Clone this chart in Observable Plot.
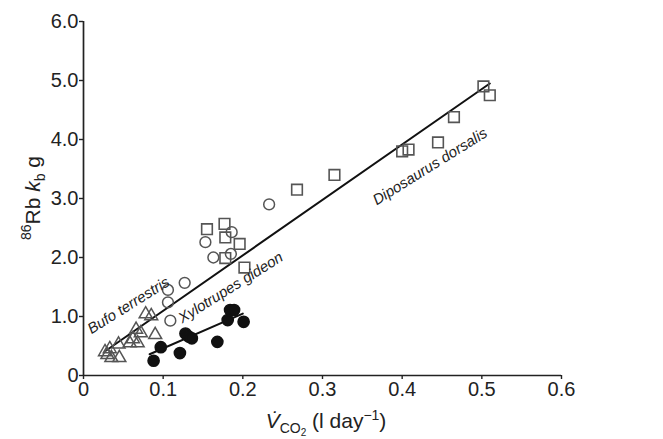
<!DOCTYPE html>
<html><head><meta charset="utf-8">
<script src="https://cdn.jsdelivr.net/npm/d3@7"></script>
<script src="https://cdn.jsdelivr.net/npm/@observablehq/plot@0.6"></script>
<style>body{margin:0;background:#fff;font-family:"Liberation Sans",Arial,sans-serif}</style>
</head><body><div id="chart"></div><script>
// Bufo terrestris (triangles)
const triX = [0.027,0.030,0.033,0.035,0.044,0.045,0.058,0.062,0.066,0.068,0.072,0.078,0.085,0.090];
const triY = [0.40,0.35,0.45,0.30,0.53,0.30,0.55,0.62,0.78,0.55,0.72,1.04,1.01,0.69];
// open circles
const circX = [0.106,0.106,0.109,0.127,0.153,0.163,0.185,0.186,0.233];
const circY = [1.45,1.24,0.93,1.57,2.26,2.00,2.06,2.43,2.90];
// Xylotrupes gideon (filled circles)
const fillX = [0.088,0.097,0.121,0.128,0.132,0.136,0.168,0.181,0.184,0.189,0.201];
const fillY = [0.25,0.48,0.38,0.71,0.66,0.63,0.57,0.94,1.11,1.11,0.91];
// Diposaurus dorsalis (squares)
const sqX = [0.155,0.177,0.178,0.196,0.178,0.202,0.268,0.315,0.400,0.408,0.445,0.465,0.502,0.510];
const sqY = [2.48,2.57,2.34,2.23,1.99,1.83,3.15,3.40,3.80,3.83,3.95,4.38,4.90,4.75];
// regression lines
const upperLineX = [0.028,0.510], upperLineY = [0.42,4.95];
const lowerLineX = [0.083,0.200], lowerLineY = [0.36,1.05];
// tick values
const xTicks = [0,0.1,0.2,0.3,0.4,0.5,0.6];
const yTicks = [0,1,2,3,4,5,6];
// species labels
const labelText = ["Bufo terrestris","Xylotrupes gideon","Diposaurus dorsalis"];
const labelX = [0.010,0.124,0.368];
const labelY = [0.70,0.88,2.88];

const zipXY = (xs, ys) => xs.map((x,i)=>({x, y: ys[i]}));
const tri = zipXY(triX, triY), circ = zipXY(circX, circY), fill = zipXY(fillX, fillY), sq = zipXY(sqX, sqY);
const up = zipXY(upperLineX, upperLineY), lo = zipXY(lowerLineX, lowerLineY);
const labels = labelText.map((t,i)=>({t, x: labelX[i], y: labelY[i]}));

const plot = Plot.plot({
  width: 663, height: 439,
  marginLeft: 83, marginRight: 102, marginTop: 21, marginBottom: 64,
  style: {fontFamily: "'Liberation Sans', Arial, sans-serif", fontSize: "20px", color: "#222", background: "white"},
  x: {domain: [0, 0.6]},
  y: {domain: [0, 6]},
  marks: [
    Plot.ruleX([0], {y1: 0, y2: 6, stroke: "#222", strokeWidth: 1.7}),
    Plot.ruleY([0], {x1: 0, x2: 0.6, stroke: "#222", strokeWidth: 1.7}),
    Plot.axisX({ticks: xTicks, tickSize: 4, tickPadding: 2, fontSize: 20, label: null, strokeWidth: 1.4,
      tickFormat: d => d === 0 ? "0" : String(d)}),
    Plot.axisY({ticks: yTicks, tickSize: 4, tickPadding: 1, fontSize: 20, label: null, strokeWidth: 1.4,
      tickFormat: d => d === 0 ? "0" : d.toFixed(1)}),
    Plot.line(up, {x: "x", y: "y", stroke: "#111", strokeWidth: 2}),
    Plot.line(lo, {x: "x", y: "y", stroke: "#111", strokeWidth: 2}),
    Plot.dot(tri, {x: "x", y: "y", symbol: "triangle", r: 4.8, stroke: "#555", strokeWidth: 1.5, fill: "none"}),
    Plot.dot(sq, {x: "x", y: "y", symbol: "square", r: 6, stroke: "#555", strokeWidth: 1.6, fill: "none"}),
    Plot.dot(circ, {x: "x", y: "y", symbol: "circle", r: 5.4, stroke: "#555", strokeWidth: 1.5, fill: "none"}),
    Plot.dot(fill, {x: "x", y: "y", symbol: "circle", r: 5.6, fill: "#111", stroke: "#111"}),
    Plot.text(labels, {x: "x", y: "y", text: "t", rotate: -32, textAnchor: "start", lineAnchor: "bottom",
      fontStyle: "italic", fontSize: 15, fill: "#222"})
  ]
});

const svg = d3.select(plot);
// Y axis label
const yl = svg.append("text")
  .attr("transform", "translate(40,198) rotate(-90)")
  .attr("text-anchor", "middle").attr("font-size", 21).attr("fill", "#222");
yl.append("tspan").attr("font-size", 14).attr("dy", -9).text("86");
yl.append("tspan").attr("dy", 9).text("Rb ");
yl.append("tspan").attr("font-style", "italic").text("k");
yl.append("tspan").attr("font-size", 14).attr("dy", 5).text("b");
yl.append("tspan").attr("dy", -5).text(" g");
// X axis label
const xl = svg.append("text")
  .attr("x", 326).attr("y", 428)
  .attr("text-anchor", "middle").attr("font-size", 21).attr("fill", "#222");
xl.append("tspan").attr("font-style", "italic").text("V\u0307");
xl.append("tspan").attr("font-size", 14).attr("dy", 5).text("CO");
xl.append("tspan").attr("font-size", 10).attr("dy", 3).text("2");
xl.append("tspan").attr("dy", -8).text(" (l day");
xl.append("tspan").attr("font-size", 14).attr("dy", -8).text("\u22121");
xl.append("tspan").attr("dy", 8).text(")");

document.getElementById("chart").appendChild(plot);
</script></body></html>
